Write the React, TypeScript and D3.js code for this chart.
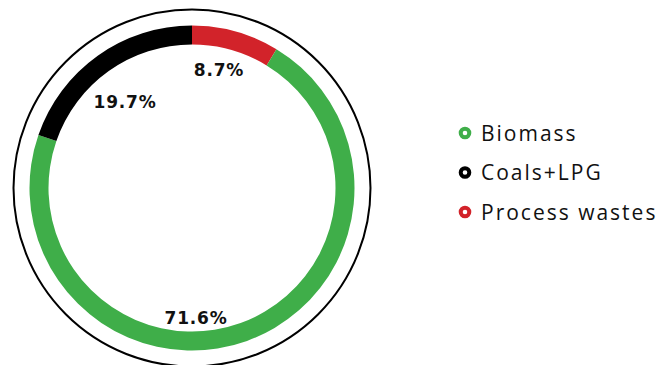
import React from "react";
import * as d3 from "d3";

const categories = ["Process wastes", "Biomass", "Coals+LPG"];
const shares = [8.7, 71.6, 19.7];
const colors = ["#d2232a", "#3fae49", "#000000"];
const legendOrder = ["Biomass", "Coals+LPG", "Process wastes"];

const W = 659;
const H = 365;
const cx = 192;
const cy = 188;
const outerR = 162.5;
const innerR = 143.5;
const frameR = 178.5;

// offsets of the percentage texts from the ring centre
const labelPos: Record<string, { dx: number; dy: number }> = {
  "Process wastes": { dx: 27, dy: -112 },
  Biomass: { dx: 4, dy: 136 },
  "Coals+LPG": { dx: -67, dy: -80 },
};

export default function App() {
  const data = categories.map((c, i) => ({ name: c, value: shares[i], color: colors[i] }));
  const pie = d3
    .pie<{ name: string; value: number; color: string }>()
    .value((d) => d.value)
    .sort(null);
  const arcs = pie(data);
  const arc = d3
    .arc<d3.PieArcDatum<{ name: string; value: number; color: string }>>()
    .innerRadius(innerR)
    .outerRadius(outerR);

  const colorOf = (n: string) => colors[categories.indexOf(n)];
  const legendY = d3.scalePoint<string>().domain(legendOrder).range([133, 212]);

  return (
    <svg
      width={W}
      height={H}
      style={{ position: "absolute", left: 0, top: 0, background: "#fff" }}
    >
      <circle cx={cx} cy={cy} r={frameR} fill="none" stroke="#000" strokeWidth={2} />
      <g transform={`translate(${cx},${cy})`}>
        {arcs.map((a) => (
          <path key={a.data.name} d={arc(a) || ""} fill={a.data.color} />
        ))}
        {arcs.map((a) => {
          const p = labelPos[a.data.name];
          return (
            <text
              key={"l" + a.data.name}
              x={p.dx}
              y={p.dy}
              textAnchor="middle"
              fontFamily="'DejaVu Sans', sans-serif"
              fontWeight={700}
              fontSize={17}
              letterSpacing={0.8}
              fill="#111"
            >
              {a.data.value.toFixed(1)}%
            </text>
          );
        })}
      </g>
      {legendOrder.map((n) => (
        <g key={n} transform={`translate(465,${legendY(n)})`}>
          <circle r={4.3} fill="#fff" stroke={colorOf(n)} strokeWidth={4} />
          <text
            x={16}
            y={7.5}
            fontFamily="'Open Sans', sans-serif"
            fontWeight={400}
            fontSize={21}
            letterSpacing={2}
            fill="#111"
          >
            {n}
          </text>
        </g>
      ))}
    </svg>
  );
}
